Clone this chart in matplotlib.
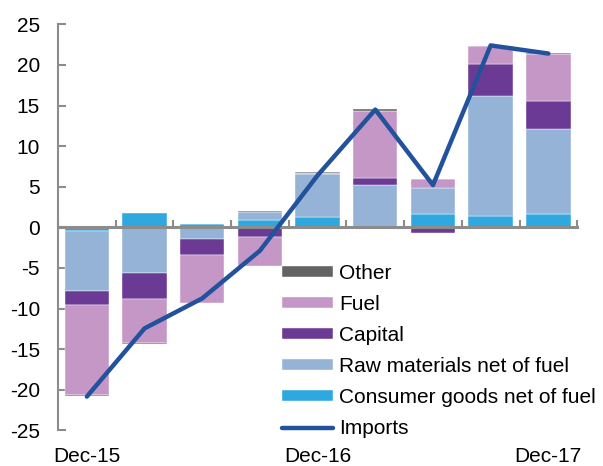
import numpy as np
import matplotlib.pyplot as plt

plt.rcParams["font.family"] = ["Liberation Sans", "DejaVu Sans"]
plt.rcParams["axes.unicode_minus"] = False

# Data
quarters = ["Dec-15", "Mar-16", "Jun-16", "Sep-16", "Dec-16",
            "Mar-17", "Jun-17", "Sep-17", "Dec-17"]
consumer = [-0.4, 1.8, 0.35, 0.9, 1.3, 0.0, 1.64, 1.39, 1.68]
raw      = [-7.45, -5.67, -1.48, 0.95, 5.22, 5.2, 3.24, 14.8, 10.47]
capital  = [-1.72, -3.16, -1.93, -1.23, -0.25, 0.9, -0.66, 3.9, 3.4]
fuel     = [-11.08, -5.47, -5.87, -3.54, 0.2, 8.26, 1.07, 2.2, 5.85]
other    = [-0.1, -0.1, 0.1, 0.1, 0.13, 0.15, 0.0, 0.0, 0.1]
imports  = [-20.85, -12.45, -8.75, -2.88, 6.4, 14.5, 5.2, 22.4, 21.4]
label_idx = [0, 4, 8]

series = [
    ("Consumer goods net of fuel", consumer, "#2ea8df"),
    ("Raw materials net of fuel",  raw,      "#95b3d7"),
    ("Capital",                    capital,  "#6b3a94"),
    ("Fuel",                       fuel,     "#c497c6"),
    ("Other",                      other,    "#636363"),
]

x = np.arange(len(quarters))
fig = plt.figure(figsize=(6.03, 4.66), dpi=100)
ax = fig.add_axes([0.0962, 0.0766, 0.861, 0.8712])

pos = np.zeros(len(x))
neg = np.zeros(len(x))
bars = []
for name, vals, col in series:
    vals = np.array(vals)
    bottom = np.where(vals >= 0, pos, neg)
    b = ax.bar(x, vals, 0.77, bottom=bottom, color=col, label=name,
               edgecolor="white", linewidth=0.3, zorder=2)
    bars.append(b)
    pos = pos + np.where(vals >= 0, vals, 0)
    neg = neg + np.where(vals < 0, vals, 0)

line, = ax.plot(x, imports, color="#23529c", lw=3.2, zorder=4,
                solid_capstyle="round", label="Imports")

ax.set_xlim(-0.5, len(x) - 0.5)
ax.set_ylim(-25, 25)
ax.set_yticks(np.arange(-25, 26, 5))

# spines
for s in ["top", "right"]:
    ax.spines[s].set_visible(False)
ax.spines["left"].set_color("#8c8c8c")
ax.spines["left"].set_linewidth(1.5)
ax.spines["bottom"].set_position(("data", 0))
ax.spines["bottom"].set_color("#8c8c8c")
ax.spines["bottom"].set_linewidth(2.2)
ax.spines["bottom"].set_zorder(3)

ax.set_xticks(np.arange(-0.5, len(x), 1.0))
ax.set_xticklabels([])
ax.tick_params(axis="x", direction="in", length=5, width=1.5, color="#8c8c8c")
ax.tick_params(axis="y", direction="in", length=6, width=1.5, color="#8c8c8c",
               labelsize=15, pad=13)

sec = ax.secondary_xaxis("bottom")
sec.set_xticks(label_idx)
sec.set_xticklabels([quarters[i] for i in label_idx])
sec.tick_params(length=0, labelsize=15, pad=12)
sec.spines["bottom"].set_visible(False)

handles = bars[::-1] + [line]
labels = [s[0] for s in series][::-1] + ["Imports"]
ax.legend(handles, labels, loc="upper left", bbox_to_anchor=(0.467, 0.434),
          bbox_transform=fig.transFigure, frameon=False, fontsize=15,
          handlelength=2.45, handleheight=0.45, handletextpad=0.3,
          labelspacing=0.58, borderaxespad=0, borderpad=0)

plt.savefig("out.png", dpi=100)
